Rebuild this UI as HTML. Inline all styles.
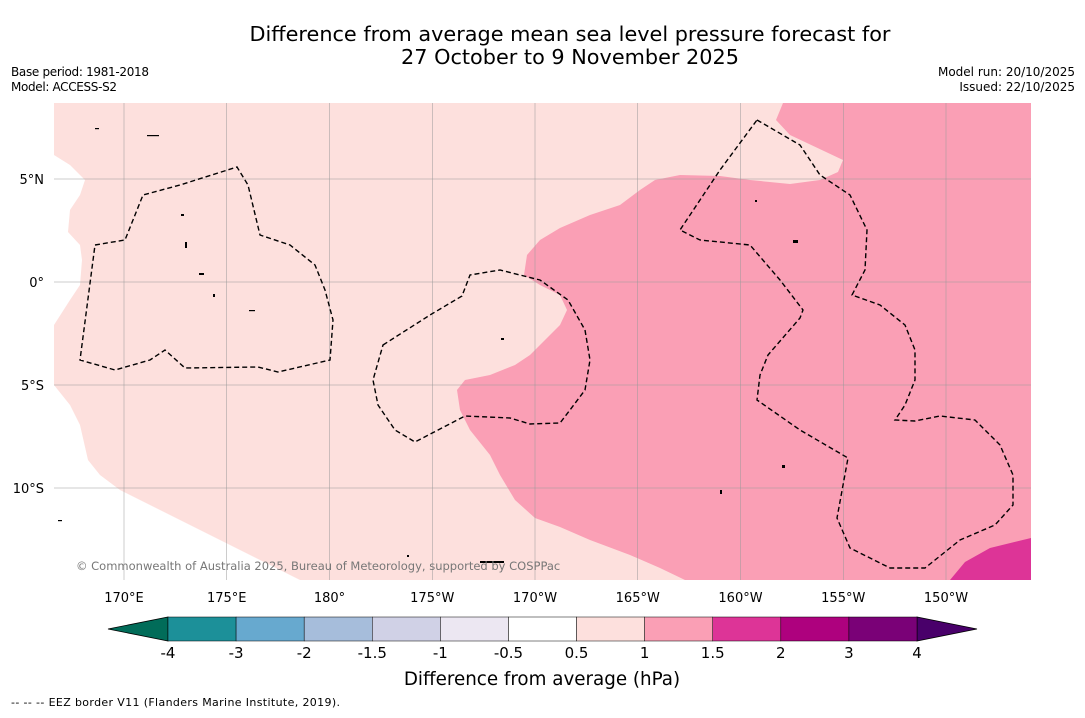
<!DOCTYPE html>
<html><head><meta charset="utf-8"><style>
body{margin:0;background:#fff;font-family:"Liberation Sans","DejaVu Sans",sans-serif;}
svg text{font-family:"DejaVu Sans","Liberation Sans",sans-serif;}
</style></head><body>
<svg id="s" width="1085" height="713" viewBox="0 0 1085 713" xmlns="http://www.w3.org/2000/svg">
<text x="570" y="41" font-size="20.8" text-anchor="middle" fill="#000">Difference from average mean sea level pressure forecast for</text>
<text x="570" y="64" font-size="20.8" text-anchor="middle" fill="#000">27 October to 9 November 2025</text>
<text x="11" y="76" font-size="12" textLength="138">Base period: 1981-2018</text>
<text x="11" y="91" font-size="12" textLength="106">Model: ACCESS-S2</text>
<text x="1075" y="76" font-size="12" text-anchor="end">Model run: 20/10/2025</text>
<text x="1075" y="91" font-size="12" text-anchor="end">Issued: 22/10/2025</text>
<g>
<rect x="54" y="103" width="977" height="477" fill="#fde0dd"/>
<polygon fill="#fff" points="54,385 70,405 80,425 88,460 100,475 120,490 160,510 200,530 240,550 280,570 300,580 54,580"/>
<polygon fill="#fff" points="54,155 70,165 85,180 80,195 70,210 68,232 80,245 82,260 80,285 70,300 54,325"/>
<polygon fill="#fa9fb5" points="783,103 776,120 790,135 843,160 838,172 820,180 790,184 750,180 720,176 680,175 655,180 640,190 620,205 590,215 560,228 540,240 527,255 524,275 540,285 560,295 567,310 560,325 545,340 530,355 515,365 490,375 465,380 457,390 460,410 470,430 490,455 500,475 515,500 535,518 560,527 590,540 630,555 660,568 685,580 1031,580 1031,103"/>
<polygon fill="#dd3497" points="950,580 965,562 990,548 1031,538 1031,580"/>
<g id="grid" stroke="#999" stroke-width="0.5"></g>
<g fill="none" stroke="#000" stroke-width="1.4" stroke-dasharray="5,3">
<polygon points="95,245 125,240 143,195 180,185 237,167 248,185 260,235 290,245 315,265 325,290 333,320 330,360 278,372 258,367 185,368 165,350 150,360 115,370 80,360"/>
<polygon points="383,345 430,315 462,296 470,275 500,270 540,280 568,300 585,330 590,360 585,390 570,410 560,423 530,424 510,418 465,416 415,442 395,430 378,405 373,380"/>
<polygon points="757,120 800,145 820,175 850,195 867,230 865,270 852,295 880,305 905,325 915,350 915,380 905,405 895,420 915,421 940,416 975,420 1000,445 1013,475 1013,505 995,525 960,540 925,568 890,568 850,548 837,518 848,458 800,430 757,400 760,375 768,355 800,318 803,310 780,280 750,245 700,240 680,230 700,200 720,170"/>
</g>
<g fill="#000">
<rect x="147" y="135" width="12" height="1.2"/><rect x="95" y="128" width="4" height="1.2"/><rect x="181" y="214" width="3" height="2"/><rect x="185" y="242" width="2" height="6"/><rect x="199" y="273" width="5" height="2"/><rect x="213" y="294" width="2" height="3"/><rect x="249" y="310" width="6" height="1.2"/><rect x="501" y="338" width="3" height="2"/><rect x="755" y="200" width="2" height="2"/><rect x="793" y="240" width="5" height="3"/><rect x="782" y="465" width="3" height="3"/><rect x="480" y="561" width="24" height="2"/><rect x="58" y="520" width="4" height="1.2"/><rect x="720" y="490" width="2" height="4"/><rect x="407" y="555" width="2" height="2"/>
</g>
<text x="76" y="570" font-size="11.5" fill="#777">© Commonwealth of Australia 2025, Bureau of Meteorology, supported by COSPPac</text>
</g>
<g id="axlab" font-size="13" fill="#000"></g>
<g id="cbar"></g>
<text x="542" y="685" font-size="18.3" text-anchor="middle">Difference from average (hPa)</text>
<text x="11" y="706" font-size="11" textLength="329">--  --  -- EEZ border V11 (Flanders Marine Institute, 2019).</text>
</svg>
<script>
const lonLabels=["170°E","175°E","180°","175°W","170°W","165°W","160°W","155°W","150°W"];
const lonValues=[170,175,180,185,190,195,200,205,210];
const latLabels=["5°N","0°","5°S","10°S"];
const latValues=[5,0,-5,-10];
const levelLabels=["-4","-3","-2","-1.5","-1","-0.5","0.5","1","1.5","2","3","4"];
const levelColors=["#1c9099","#67a9cf","#a6bddb","#d0d1e6","#ece7f2","#ffffff","#fde0dd","#fa9fb5","#dd3497","#ae017e","#7a0177"];
const NS="http://www.w3.org/2000/svg";
const xLon=l=>124+(l-170)*20.55;
const yLat=l=>282-l*20.6;
function mk(t,a,p){const e=document.createElementNS(NS,t);for(const k in a)e.setAttribute(k,a[k]);p.appendChild(e);return e;}
const g=document.getElementById('grid'),ax=document.getElementById('axlab');
lonValues.forEach((v,i)=>{const x=xLon(v);
const l=mk('line',{x1:x,x2:x,y1:103,y2:580},g);


const t=mk('text',{x:x,y:602,'text-anchor':'middle'},ax);t.textContent=lonLabels[i];

});
latValues.forEach((v,i)=>{const y=yLat(v);
const l=mk('line',{x1:54,x2:1031,y1:y,y2:y},g);


const t=mk('text',{x:44,y:y+5,'text-anchor':'end'},ax);t.textContent=latLabels[i];

});
const cb=document.getElementById('cbar');const x0=168,x1=917,y0=617,h=24,w=(x1-x0)/levelColors.length;
const la=mk('polygon',{points:`${x0},${y0} ${x0},${y0+h} 108,${y0+h/2}`,fill:'#016c59',stroke:'#000','stroke-width':0.8},cb);


const ra=mk('polygon',{points:`${x1},${y0} ${x1},${y0+h} 977,${y0+h/2}`,fill:'#49006a',stroke:'#000','stroke-width':0.8},cb);


levelColors.forEach((c,i)=>{const r=mk('rect',{x:x0+i*w,y:y0,width:w,height:h,fill:c,stroke:'#000','stroke-width':0.5},cb);

});
levelLabels.forEach((s,i)=>{const t=mk('text',{x:x0+i*w,y:658,'text-anchor':'middle','font-size':15},cb);t.textContent=s;

});
</script>
</body></html>
